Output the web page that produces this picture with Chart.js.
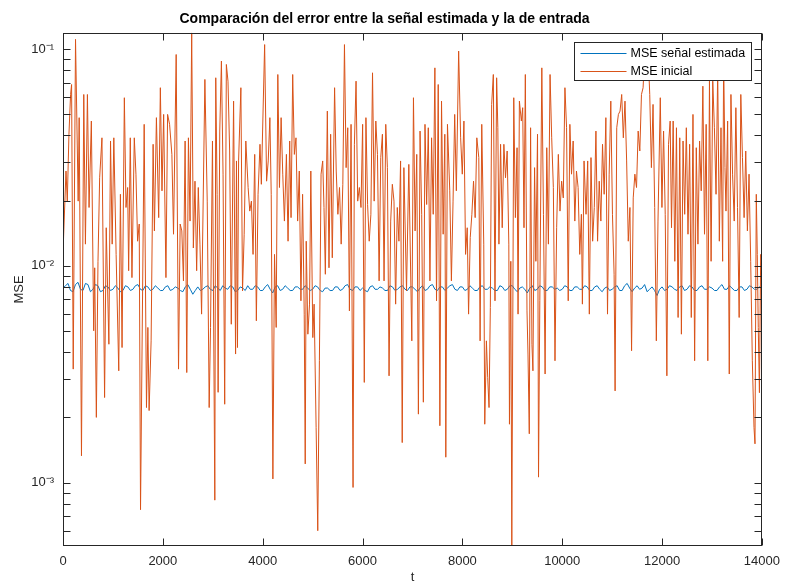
<!DOCTYPE html>
<html><head><meta charset="utf-8">
<script src="https://cdn.jsdelivr.net/npm/chart.js@4.4.0/dist/chart.umd.min.js"></script>
<style>html,body{margin:0;padding:0;background:#fff;}canvas{display:block;}</style>
</head><body>
<canvas id="c" width="788" height="585"></canvas>
<script>
const chartTitle = 'Comparación del error entre la señal estimada y la de entrada';
const xLabel = 't';
const yLabel = 'MSE';
const seriesNames = ['MSE señal estimada', 'MSE inicial'];
const xTicks = [0, 2000, 4000, 6000, 8000, 10000, 12000, 14000];
const yTicks = [0.0006,0.0007,0.0008,0.0009,0.001,0.002,0.003,0.004,0.005,0.006,0.007,0.008,0.009,0.01,0.02,0.03,0.04,0.05,0.06,0.07,0.08,0.09,0.1];
const yMajorTicks = [0.001, 0.01, 0.1];
const yMajorLabels = ['10⁻³', '10⁻²', '10⁻¹'];
const xRange = [0, 14000];
const yRange = [0.00051, 0.119];

// MSE señal estimada, one value every blueStep samples of t
const blueStep = 50;
const mseEstimada = [
0.0079,0.0081,0.0083,0.0077,0.0076,0.0082,0.0084,0.0078,0.0077,0.0083,0.0082,0.0076,0.0078,0.0082,0.0081,0.0076,0.0077,0.0081,0.0080,0.0077,
0.0078,0.0081,0.0079,0.0076,0.0077,0.0081,0.0080,0.0077,0.0078,0.0081,0.0082,0.0078,0.0077,0.0081,0.0080,0.0077,0.0078,0.0081,0.0079,0.0077,
0.0077,0.0080,0.0081,0.0077,0.0078,0.0080,0.0079,0.0077,0.0076,0.0080,0.0082,0.0078,0.0074,0.0077,0.0080,0.0077,0.0078,0.0080,0.0081,0.0078,
0.0077,0.0081,0.0079,0.0077,0.0081,0.0079,0.0078,0.0081,0.0080,0.0076,0.0077,0.0080,0.0079,0.0077,0.0081,0.0078,0.0078,0.0081,0.0080,0.0077,
0.0077,0.0080,0.0082,0.0078,0.0075,0.0080,0.0081,0.0077,0.0078,0.0081,0.0079,0.0077,0.0077,0.0080,0.0080,0.0078,0.0078,0.0081,0.0079,0.0077,
0.0078,0.0081,0.0080,0.0077,0.0076,0.0079,0.0079,0.0077,0.0077,0.0080,0.0080,0.0077,0.0078,0.0081,0.0082,0.0078,0.0077,0.0080,0.0080,0.0077,
0.0079,0.0077,0.0076,0.0080,0.0081,0.0078,0.0078,0.0080,0.0079,0.0077,0.0077,0.0081,0.0080,0.0077,0.0078,0.0080,0.0081,0.0078,0.0077,0.0080,
0.0080,0.0078,0.0076,0.0079,0.0081,0.0077,0.0078,0.0081,0.0082,0.0078,0.0077,0.0080,0.0080,0.0077,0.0079,0.0081,0.0082,0.0078,0.0077,0.0080,
0.0080,0.0077,0.0078,0.0081,0.0079,0.0077,0.0077,0.0080,0.0081,0.0078,0.0078,0.0080,0.0079,0.0077,0.0077,0.0081,0.0080,0.0077,0.0078,0.0081,
0.0081,0.0078,0.0076,0.0079,0.0080,0.0078,0.0075,0.0079,0.0081,0.0077,0.0078,0.0081,0.0080,0.0077,0.0077,0.0080,0.0080,0.0078,0.0079,0.0077,
0.0078,0.0081,0.0080,0.0077,0.0077,0.0080,0.0080,0.0078,0.0078,0.0081,0.0080,0.0077,0.0077,0.0080,0.0081,0.0078,0.0076,0.0079,0.0080,0.0077,
0.0078,0.0080,0.0081,0.0077,0.0077,0.0081,0.0083,0.0079,0.0076,0.0079,0.0081,0.0078,0.0079,0.0082,0.0076,0.0078,0.0080,0.0077,0.0073,0.0078,
0.0080,0.0077,0.0078,0.0081,0.0080,0.0078,0.0077,0.0080,0.0081,0.0077,0.0078,0.0081,0.0080,0.0077,0.0077,0.0080,0.0081,0.0078,0.0078,0.0080,
0.0079,0.0077,0.0077,0.0080,0.0082,0.0078,0.0078,0.0081,0.0079,0.0077,0.0077,0.0080,0.0080,0.0077,0.0078,0.0081,0.0080,0.0078,0.0078,0.0080,
0.0079];

// MSE inicial: [t, MSE]
const mseInicial = [
[0,0.0115],[60,0.0274],[86,0.0199],[119,0.0405],[152,0.0618],[172,0.0687],[205,0.00334],[251,0.111],[304,0.0199],[324,0.0483],
[370,0.00133],[416,0.0618],[449,0.0126],[489,0.0618],[522,0.0186],[568,0.0466],[615,0.00502],[635,0.0098],[668,0.002],[701,0.0105],
[734,0.0255],[780,0.039],[833,0.00247],[866,0.015],[919,0.00435],[952,0.0377],[985,0.0126],[1018,0.039],[1064,0.0113],[1117,0.00328],
[1150,0.0214],[1183,0.0042],[1229,0.0597],[1262,0.0186],[1295,0.023],[1315,0.0095],[1348,0.039],[1381,0.00883],[1428,0.039],[1461,0.0265],
[1494,0.013],[1527,0.0156],[1553,0.00075],[1626,0.045],[1672,0.00222],[1700,0.0052],[1725,0.00215],[1765,0.00451],[1805,0.0364],[1831,0.0145],
[1871,0.0483],[1917,0.0167],[1950,0.0664],[1983,0.0222],[2016,0.050],[2062,0.00883],[2095,0.050],[2135,0.045],[2181,0.0327],[2214,0.014],
[2267,0.0945],[2314,0.00334],[2347,0.0156],[2380,0.0145],[2413,0.00853],[2446,0.0377],[2479,0.00322],[2512,0.039],[2545,0.0161],[2578,0.119],
[2611,0.0121],[2644,0.0246],[2677,0.0095],[2710,0.023],[2743,0.0126],[2776,0.00599],[2842,0.0725],[2889,0.0199],[2928,0.00222],[2955,0.0052],
[2994,0.0377],[3041,0.00083],[3060,0.0738],[3087,0.0214],[3107,0.00261],[3140,0.0419],[3173,0.0881],[3206,0.0265],[3239,0.0023],[3272,0.085],
[3305,0.0712],[3338,0.0339],[3371,0.00538],[3417,0.0576],[3457,0.00392],[3475,0.0305],[3495,0.0042],[3517,0.0305],[3563,0.0664],[3596,0.00767],
[3629,0.014],[3662,0.0377],[3708,0.023],[3741,0.0179],[3774,0.0199],[3807,0.0113],[3840,0.0327],[3873,0.00558],[3907,0.0214],[3946,0.0364],
[3973,0.0238],[4039,0.105],[4078,0.0246],[4111,0.0305],[4144,0.0483],[4171,0.0214],[4204,0.00104],[4237,0.0113],[4270,0.0052],[4303,0.0764],
[4336,0.023],[4369,0.0483],[4402,0.0265],[4435,0.0161],[4475,0.0327],[4508,0.013],[4541,0.0377],[4568,0.0167],[4601,0.0764],[4634,0.0327],
[4667,0.039],[4700,0.0161],[4733,0.0274],[4766,0.0069],[4799,0.0214],[4832,0.00599],[4852,0.00122],[4872,0.013],[4905,0.00484],[4938,0.00666],
[4964,0.0274],[5004,0.00467],[5030,0.00666],[5070,0.0018],[5103,0.0006],[5136,0.00365],[5169,0.0265],[5202,0.0305],[5228,0.0186],[5255,0.00915],
[5295,0.0518],[5328,0.0098],[5361,0.0405],[5394,0.0109],[5440,0.0664],[5473,0.0274],[5506,0.0173],[5539,0.023],[5572,0.0126],[5605,0.0238],
[5638,0.105],[5671,0.0284],[5704,0.0434],[5737,0.0062],[5770,0.045],[5810,0.00095],[5837,0.0364],[5870,0.0712],[5903,0.0199],[5936,0.023],
[5969,0.0186],[6002,0.045],[6035,0.0029],[6068,0.0483],[6101,0.0192],[6134,0.013],[6167,0.0173],[6200,0.0778],[6233,0.0199],[6266,0.0466],
[6299,0.0327],[6332,0.00853],[6365,0.0316],[6398,0.0405],[6431,0.00853],[6465,0.045],[6498,0.0284],[6531,0.00311],[6564,0.0161],[6597,0.0238],
[6630,0.0199],[6663,0.00666],[6696,0.0186],[6729,0.013],[6762,0.0305],[6795,0.00153],[6828,0.0284],[6881,0.00767],[6927,0.0294],[6987,0.00451],
[7020,0.0597],[7053,0.0145],[7086,0.0327],[7119,0.00207],[7152,0.0419],[7185,0.0173],[7218,0.00235],[7251,0.045],[7284,0.0192],[7317,0.0434],
[7350,0.00853],[7383,0.039],[7416,0.0173],[7449,0.082],[7482,0.0069],[7516,0.0687],[7549,0.00183],[7582,0.0576],[7615,0.014],[7648,0.0405],
[7668,0.00131],[7701,0.045],[7747,0.0222],[7780,0.00853],[7813,0.0199],[7846,0.050],[7879,0.0222],[7925,0.098],[7965,0.039],[7998,0.0265],
[8031,0.0466],[8064,0.0113],[8097,0.015],[8124,0.00599],[8157,0.0135],[8190,0.0173],[8223,0.0246],[8256,0.0167],[8289,0.039],[8329,0.0316],
[8355,0.00451],[8388,0.045],[8428,0.0126],[8448,0.00186],[8481,0.00451],[8507,0.00306],[8534,0.00222],[8560,0.00643],[8586,0.0556],[8620,0.0764],
[8653,0.0069],[8686,0.0738],[8710,0.0434],[8732,0.0126],[8765,0.0364],[8798,0.015],[8831,0.0364],[8864,0.0255],[8897,0.0339],[8930,0.0126],
[8943,0.00186],[8970,0.0105],[8990,0.00051],[9029,0.0597],[9062,0.0167],[9095,0.0351],[9115,0.00599],[9142,0.0576],[9181,0.0466],[9208,0.0537],
[9234,0.015],[9261,0.0764],[9294,0.0062],[9314,0.00392],[9340,0.00168],[9366,0.0434],[9393,0.00435],[9413,0.00328],[9446,0.0284],[9472,0.0105],
[9505,0.0405],[9525,0.00106],[9551,0.0069],[9591,0.082],[9624,0.0173],[9657,0.00317],[9690,0.0351],[9723,0.0126],[9756,0.0764],[9789,0.039],
[9822,0.023],[9855,0.00365],[9888,0.015],[9922,0.0327],[9955,0.0179],[9988,0.0246],[10021,0.0206],[10054,0.0664],[10087,0.0434],[10120,0.0069],
[10153,0.045],[10186,0.0265],[10219,0.0377],[10252,0.0161],[10285,0.0274],[10318,0.023],[10351,0.0113],[10384,0.0173],[10404,0.00666],[10437,0.0305],
[10477,0.0173],[10510,0.0305],[10543,0.00599],[10576,0.0316],[10609,0.013],[10642,0.0186],[10675,0.0419],[10708,0.013],[10741,0.0246],[10774,0.0161],
[10807,0.0364],[10840,0.0214],[10874,0.0483],[10907,0.00599],[10940,0.0265],[10973,0.0576],[11006,0.0173],[11039,0.00915],[11059,0.00265],[11092,0.0434],
[11125,0.050],[11158,0.0518],[11191,0.0618],[11224,0.039],[11257,0.0576],[11290,0.0305],[11323,0.013],[11356,0.0186],[11389,0.00406],[11422,0.0206],
[11455,0.0265],[11488,0.023],[11521,0.0419],[11554,0.0339],[11587,0.0618],[11620,0.0664],[11654,0.098],[11687,0.0738],[11720,0.098],[11753,0.0618],
[11786,0.0284],[11819,0.0556],[11852,0.0186],[11885,0.00451],[11918,0.0161],[11964,0.0597],[11997,0.0186],[12030,0.0419],[12063,0.0173],[12096,0.00311],
[12129,0.0364],[12162,0.0466],[12189,0.015],[12222,0.0466],[12255,0.0105],[12288,0.0434],[12321,0.00578],[12354,0.039],[12387,0.00484],[12420,0.0377],
[12453,0.0173],[12486,0.0434],[12519,0.014],[12552,0.0364],[12585,0.00578],[12619,0.050],[12652,0.00365],[12685,0.0351],[12718,0.0126],[12751,0.0377],
[12784,0.0222],[12817,0.0675],[12850,0.014],[12883,0.045],[12916,0.00365],[12949,0.0712],[12982,0.0105],[13015,0.0712],[13048,0.0434],[13081,0.0214],
[13114,0.0792],[13147,0.013],[13180,0.0434],[13213,0.0105],[13233,0.0912],[13260,0.0284],[13280,0.0179],[13313,0.0466],[13346,0.00317],[13379,0.0618],
[13412,0.0265],[13445,0.0161],[13478,0.0537],[13511,0.0186],[13544,0.00578],[13577,0.0618],[13610,0.0316],[13643,0.0167],[13676,0.0339],[13709,0.0145],
[13742,0.0265],[13775,0.0105],[13808,0.00365],[13841,0.0018],[13861,0.00151],[13887,0.0214],[13907,0.0113],[13927,0.0052],[13950,0.0026],[13975,0.0113],
[14000,0.0102]];

const colors = ['#0072BD', '#D95319'];
const AX = '#262626';
const FONT = '"Liberation Sans", Arial, Helvetica, sans-serif';
Chart.defaults.font.family = FONT;

const boxPlugin = {
  id: 'matlabBox',
  afterDatasetsDraw(chart) {
    const {ctx, chartArea: a, scales: {x, y}} = chart;
    ctx.save();
    // legend (inside axes, north-east)
    ctx.font = '12.5px ' + FONT;
    const tw = Math.max(...seriesNames.map(s => ctx.measureText(s).width));
    const bw = Math.round(56 + tw + 6), bh = 38;
    const bx = Math.round(a.right - 11 - bw) + 0.5, by = Math.round(a.top + 9) + 0.5;
    ctx.fillStyle = '#fff';
    ctx.fillRect(bx, by, bw, bh);
    ctx.strokeStyle = AX; ctx.lineWidth = 1;
    ctx.strokeRect(bx, by, bw, bh);
    seriesNames.forEach((s, i) => {
      const yy = Math.round(by + 10 + i * 18) + 0.5;
      ctx.strokeStyle = colors[i]; ctx.lineWidth = 1.2;
      ctx.beginPath(); ctx.moveTo(bx + 6, yy); ctx.lineTo(bx + 52, yy); ctx.stroke();
      ctx.fillStyle = '#000'; ctx.textBaseline = 'middle'; ctx.textAlign = 'left';
      ctx.fillText(s, bx + 56, yy);
    });
    // frame + inward ticks
    const L = Math.round(a.left) + 0.5, R = Math.round(a.right) - 0.5;
    const T = Math.round(a.top) + 0.5, B = Math.round(a.bottom) - 0.5;
    ctx.strokeStyle = AX; ctx.lineWidth = 1;
    ctx.strokeRect(L, T, R - L, B - T);
    const len = 7;
    ctx.beginPath();
    x.ticks.forEach(t => {
      const px = Math.round(x.getPixelForValue(t.value)) + 0.5;
      ctx.moveTo(px, B); ctx.lineTo(px, B - len);
      ctx.moveTo(px, T); ctx.lineTo(px, T + len);
    });
    y.ticks.forEach(t => {
      const py = Math.round(y.getPixelForValue(t.value)) + 0.5;
      ctx.moveTo(L, py); ctx.lineTo(L + len, py);
      ctx.moveTo(R, py); ctx.lineTo(R - len, py);
    });
    ctx.stroke();
    ctx.restore();
  }
};

new Chart(document.getElementById('c'), {
  type: 'line',
  data: {
    datasets: [
      { label: seriesNames[1], data: mseInicial.map(p => ({x: p[0], y: p[1]})), borderColor: colors[1], borderWidth: 1, pointRadius: 0, tension: 0, fill: false },
      { label: seriesNames[0], data: mseEstimada.map((v, i) => ({x: i * blueStep, y: v})), borderColor: colors[0], borderWidth: 1, pointRadius: 0, tension: 0, fill: false }
    ]
  },
  options: {
    responsive: false,
    animation: false,
    devicePixelRatio: 1,
    layout: { padding: { left: 0, right: 19, top: 0, bottom: 0 } },
    plugins: {
      legend: { display: false },
      tooltip: { enabled: false },
      title: { display: true, text: chartTitle, color: '#000', font: { size: 14, weight: 'bold', family: FONT }, padding: { top: 11, bottom: 5 } }
    },
    scales: {
      x: {
        type: 'linear', min: xRange[0], max: xRange[1],
        afterBuildTicks: s => { s.ticks = xTicks.map(v => ({value: v})); },
        afterFit: s => { s.height = 39; },
        ticks: { callback: v => String(v), color: AX, font: { size: 13 }, padding: 8, maxRotation: 0, autoSkip: false },
        grid: { display: false, drawTicks: false },
        border: { display: false },
        title: { display: true, text: xLabel, color: AX, font: { size: 13 }, padding: { top: 0, bottom: 0 } }
      },
      y: {
        type: 'logarithmic', min: yRange[0], max: yRange[1],
        afterBuildTicks: s => { s.ticks = yTicks.map(v => ({value: v})); },
        afterFit: s => { s.width = 63; },
        ticks: { callback: v => { const k = yMajorTicks.indexOf(v); return k >= 0 ? yMajorLabels[k] : ''; }, color: AX, font: { size: 13 }, padding: 9, autoSkip: false },
        grid: { display: false, drawTicks: false },
        border: { display: false },
        title: { display: true, text: yLabel, color: AX, font: { size: 13 }, padding: { top: 12, bottom: 0 } }
      }
    }
  },
  plugins: [boxPlugin]
});
</script>
</body></html>
